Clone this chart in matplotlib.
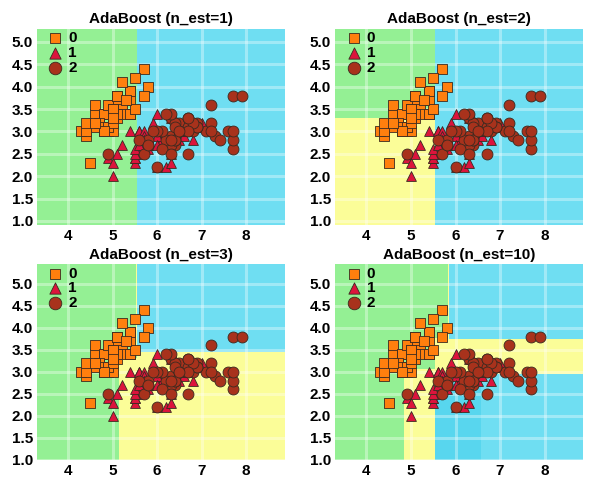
import numpy as np
import matplotlib
matplotlib.use("Agg")
import matplotlib.pyplot as plt

plt.rcParams['font.family'] = ['Liberation Sans', 'DejaVu Sans']

# Iris: sepal length / sepal width, species 0/1/2
sepal_length = [
    5.1, 4.9, 4.7, 4.6, 5.0, 5.4, 4.6, 5.0, 4.4, 4.9, 5.4, 4.8, 4.8, 4.3, 5.8, 5.7, 5.4, 5.1, 5.7, 5.1,
    5.4, 5.1, 4.6, 5.1, 4.8, 5.0, 5.0, 5.2, 5.2, 4.7, 4.8, 5.4, 5.2, 5.5, 4.9, 5.0, 5.5, 4.9, 4.4, 5.1,
    5.0, 4.5, 4.4, 5.0, 5.1, 4.8, 5.1, 4.6, 5.3, 5.0,
    7.0, 6.4, 6.9, 5.5, 6.5, 5.7, 6.3, 4.9, 6.6, 5.2, 5.0, 5.9, 6.0, 6.1, 5.6, 6.7, 5.6, 5.8, 6.2, 5.6,
    5.9, 6.1, 6.3, 6.1, 6.4, 6.6, 6.8, 6.7, 6.0, 5.7, 5.5, 5.5, 5.8, 6.0, 5.4, 6.0, 6.7, 6.3, 5.6, 5.5,
    5.5, 6.1, 5.8, 5.0, 5.6, 5.7, 5.7, 6.2, 5.1, 5.7,
    6.3, 5.8, 7.1, 6.3, 6.5, 7.6, 4.9, 7.3, 6.7, 7.2, 6.5, 6.4, 6.8, 5.7, 5.8, 6.4, 6.5, 7.7, 7.7, 6.0,
    6.9, 5.6, 7.7, 6.3, 6.7, 7.2, 6.2, 6.1, 6.4, 7.2, 7.4, 7.9, 6.4, 6.3, 6.1, 7.7, 6.3, 6.4, 6.0, 6.9,
    6.7, 6.9, 5.8, 6.8, 6.7, 6.7, 6.3, 6.5, 6.2, 5.9,
]
sepal_width = [
    3.5, 3.0, 3.2, 3.1, 3.6, 3.9, 3.4, 3.4, 2.9, 3.1, 3.7, 3.4, 3.0, 3.0, 4.0, 4.4, 3.9, 3.5, 3.8, 3.8,
    3.4, 3.7, 3.6, 3.3, 3.4, 3.0, 3.4, 3.5, 3.4, 3.2, 3.1, 3.4, 4.1, 4.2, 3.1, 3.2, 3.5, 3.6, 3.0, 3.4,
    3.5, 2.3, 3.2, 3.5, 3.8, 3.0, 3.8, 3.2, 3.7, 3.3,
    3.2, 3.2, 3.1, 2.3, 2.8, 2.8, 3.3, 2.4, 2.9, 2.7, 2.0, 3.0, 2.2, 2.9, 2.9, 3.1, 3.0, 2.7, 2.2, 2.5,
    3.2, 2.8, 2.5, 2.8, 2.9, 3.0, 2.8, 3.0, 2.9, 2.6, 2.4, 2.4, 2.7, 2.7, 3.0, 3.4, 3.1, 2.3, 3.0, 2.5,
    2.6, 3.0, 2.6, 2.3, 2.7, 3.0, 2.9, 2.9, 2.5, 2.8,
    3.3, 2.7, 3.0, 2.9, 3.0, 3.0, 2.5, 2.9, 2.5, 3.6, 3.2, 2.7, 3.0, 2.5, 2.8, 3.2, 3.0, 3.8, 2.6, 2.2,
    3.2, 2.8, 2.8, 2.7, 3.3, 3.2, 2.8, 3.0, 2.8, 3.0, 2.8, 3.8, 2.8, 2.8, 2.6, 3.0, 3.4, 3.1, 3.0, 3.1,
    3.1, 3.1, 2.7, 3.2, 3.3, 3.0, 2.5, 3.0, 3.4, 3.0,
]
species = [0] * 50 + [1] * 50 + [2] * 50

titles = ['AdaBoost (n_est=1)', 'AdaBoost (n_est=2)', 'AdaBoost (n_est=3)', 'AdaBoost (n_est=10)']

# decision regions: (x0, x1, y0, y1, class); 3 = darker shade of class 2
regions_1 = [(0, 5.55, 0, 9, 0), (5.55, 10, 0, 9, 2)]
regions_2 = [(0, 5.55, 3.3, 9, 0), (0, 5.55, 0, 3.3, 1), (5.55, 10, 0, 9, 2)]
regions_3 = [(0, 5.15, 0, 9, 0), (5.15, 5.55, 3.3, 9, 0), (5.15, 5.55, 0, 3.3, 1),
             (5.55, 10, 3.45, 9, 2), (5.55, 10, 0, 3.45, 1)]
regions_10 = [(0, 4.85, 0, 9, 0), (4.85, 5.55, 3.05, 9, 0), (4.85, 5.55, 0, 3.05, 1),
              (5.55, 5.85, 3.75, 9, 0), (5.85, 10, 3.75, 9, 2), (5.55, 10, 2.95, 3.75, 1),
              (5.55, 10, 0, 2.95, 2), (5.55, 6.55, 0, 2.95, 3)]
all_regions = [regions_1, regions_2, regions_3, regions_10]

region_colors = ['#94F094', '#FBFD98', '#6FDEF2', '#58D6EE']
marker_style = [('s', '#FF7F0E', 42), ('^', '#DC143C', 50), ('o', '#A8321C', 62)]

X = np.column_stack([sepal_length, sepal_width])
y = np.array(species)

fig, axes = plt.subplots(2, 2, figsize=(5.96, 4.92), dpi=100)
plt.subplots_adjust(left=0.062, right=0.978, bottom=0.065, top=0.941, wspace=0.205, hspace=0.2)

xx, yy = np.meshgrid(np.arange(3.3, 8.9, 0.02), np.arange(0.8, 5.6, 0.02))

for i, ax in enumerate(axes.flat):
    Z = np.zeros_like(xx)
    for x0, x1, y0, y1, c in all_regions[i]:
        Z[(xx >= x0) & (xx < x1) & (yy >= y0) & (yy < y1)] = c
    ax.contourf(xx, yy, Z, levels=[-0.5, 0.5, 1.5, 2.5, 3.5], colors=region_colors, zorder=0)

    for k, (m, col, s) in enumerate(marker_style):
        ax.scatter(X[y == k, 0], X[y == k, 1], marker=m, c=col, s=s,
                   edgecolors='#3a2a20', linewidths=0.6, label=str(k), zorder=3)

    ax.set_xlim(3.3, 8.86)
    if i < 2:
        ax.set_ylim(0.91, 5.29)
    else:
        ax.set_ylim(0.995, 5.45)
    ax.set_xticks([4, 5, 6, 7, 8])
    ax.set_yticks([1.0, 1.5, 2.0, 2.5, 3.0, 3.5, 4.0, 4.5, 5.0])
    ax.set_yticklabels(['1.0', '1.5', '2.0', '2.5', '3.0', '3.5', '4.0', '4.5', '5.0'])
    ax.set_axisbelow(False)
    ax.grid(True, color='white', alpha=0.35, linewidth=2.2, zorder=2)
    ax.tick_params(length=0, pad=3, labelsize=11)
    for lab in ax.get_xticklabels() + ax.get_yticklabels():
        lab.set_fontweight('bold')
    for sp in ax.spines.values():
        sp.set_visible(False)
    ax.set_title(titles[i], fontsize=11, fontweight='bold', pad=4)
    ax.legend(loc='upper left', bbox_to_anchor=(0.0, 1.015), frameon=False,
              prop={'size': 11, 'weight': 'bold'},
              borderaxespad=0.0, borderpad=0.35, handlelength=1.7, handletextpad=0.0,
              labelspacing=0.05, markerscale=1.15)

plt.savefig('out.png', dpi=100)
